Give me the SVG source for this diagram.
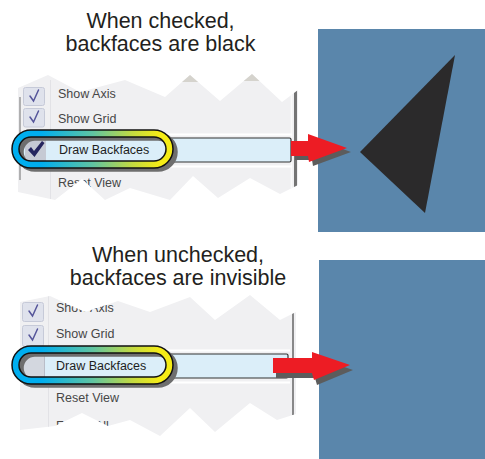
<svg xmlns="http://www.w3.org/2000/svg" width="485" height="459" viewBox="0 0 485 459">
<style>
.title{font-family:"Liberation Sans",Arial,sans-serif;font-size:21.5px;fill:#231f20;text-anchor:middle}
.item{font-family:"Liberation Sans",Arial,sans-serif;font-size:12.5px;fill:#474747}
.sel{font-family:"Liberation Sans",Arial,sans-serif;font-size:12.5px;fill:#1e1e1e}
.bg{fill:#f0f0f2}
.box{fill:#dfe2ec;stroke:#c6cad8;stroke-width:1}
.chk{fill:none;stroke:#55559a;stroke-width:1.5;stroke-linecap:round}
.row{fill:#dbeef9;stroke:#333;stroke-width:1.2}
.sep{stroke:#ffffff;stroke-width:2}
.panel{fill:#5a86ab}
.arrow{fill:#ed1c24}
.ashadow{fill:#5c5c5c}
.ringshadow{fill:none;stroke:#6e6e6e;stroke-width:8.5}
.ring{fill:none;stroke:url(#ringgrad);stroke-width:7}
.ringedge{fill:none;stroke:#111;stroke-width:1.5}
</style>
<defs>
<linearGradient id="ringgrad" x1="12" y1="0" x2="173" y2="0" gradientUnits="userSpaceOnUse">
<stop offset="0" stop-color="#00aeef"/>
<stop offset="0.18" stop-color="#00aeef"/>
<stop offset="0.5" stop-color="#5fc4a2"/>
<stop offset="0.75" stop-color="#c4da40"/>
<stop offset="0.92" stop-color="#f5ec16"/>
<stop offset="1" stop-color="#f5ec16"/>
</linearGradient>
<clipPath id="clip1"><polygon points="18,88 48,75 80,92 125,80 165,97 190,75 220,101 252,74 282,102 298,90 298,185 280,194 250,178 218,198 193,176 170,200 130,188 105,200 82,179 55,200 18,192"/></clipPath>
<clipPath id="clip2"><polygon points="20,302 50,296 85,312 118,301 150,312 190,297 215,320 250,295 280,320 296,312 296,414 277,420 250,403 215,432 190,408 160,436 130,420 108,426 82,413 55,426 20,430"/></clipPath>
<g id="capsule">
<rect class="ringshadow" x="19.5" y="136.5" width="154" height="31" rx="15.5"/>
<rect class="ring" x="15.5" y="133.5" width="154" height="31" rx="15.5"/>
<rect class="ringedge" x="12" y="130" width="161" height="38" rx="19"/>
<rect class="ringedge" x="19" y="137" width="147" height="24" rx="12"/>
</g>
</defs>

<g id="title1">
<text class="title" x="160.5" y="28">When checked,</text>
<text class="title" x="160.5" y="51">backfaces are black</text>
</g>

<g id="menu1">
<g clip-path="url(#clip1)">
<rect class="bg" x="0" y="60" width="300" height="150"/>
<rect x="180" y="60" width="20" height="22" fill="#d5d3cd"/>
<rect x="242" y="60" width="20" height="21" fill="#d5d3cd"/>
<line x1="50.5" y1="80" x2="50.5" y2="200" stroke="#e2e2e6" stroke-width="1"/>
<line x1="20" y1="97" x2="20" y2="180" stroke="#9a9a9a" stroke-width="1.5"/>
<line x1="291.5" y1="85" x2="291.5" y2="195" stroke="#fafafa" stroke-width="1.5"/>
<line x1="295.5" y1="85" x2="295.5" y2="195" stroke="#747474" stroke-width="3"/>
<rect class="box" x="23.5" y="87.5" width="21" height="18" rx="2"/>
<path class="chk" d="M30,96 L33.5,101 L38.5,90"/>
<text class="item" x="58" y="98">Show Axis</text>
<rect class="box" x="23.5" y="108.5" width="21" height="18.5" rx="2"/>
<path class="chk" d="M30,117 L33.5,122 L38.5,111"/>
<text class="item" x="58" y="123">Show Grid</text>
<line class="sep" x1="22" y1="134.5" x2="292" y2="134.5"/>
<line class="sep" x1="22" y1="166.5" x2="292" y2="166.5"/>
<text class="item" x="58" y="187">Reset View</text>
</g>
<rect class="row" x="22" y="138" width="269" height="24" rx="1.5"/>
<rect x="25" y="139" width="21" height="22" fill="#c6cad4"/>
<path d="M28,150 L31,147 L34,151 L42,141 L44.5,143 L34.5,157 Z" fill="#25255e"/>
<text class="sel" x="59" y="154">Draw Backfaces</text>
<use href="#capsule"/>
</g>

<g id="panel1">
<rect class="panel" x="318" y="29" width="167" height="203"/>
<polygon points="455,55 360,152 425,213" fill="#2b2a2b"/>
</g>

<g id="title2">
<text class="title" x="178" y="262">When unchecked,</text>
<text class="title" x="178" y="285">backfaces are invisible</text>
</g>

<g id="menu2">
<g clip-path="url(#clip2)">
<rect class="bg" x="0" y="290" width="300" height="150"/>
<line x1="48.5" y1="295" x2="48.5" y2="435" stroke="#e2e2e6" stroke-width="1"/>
<line x1="293" y1="313" x2="293" y2="415" stroke="#505050" stroke-width="1.3"/>
<rect class="box" x="22.5" y="302.5" width="21" height="19" rx="2"/>
<path class="chk" d="M29,311 L32.5,316 L37.5,305"/>
<text class="item" x="56" y="312">Show Axis</text>
<rect class="box" x="22.5" y="325.5" width="21" height="21" rx="2"/>
<path class="chk" d="M29,335 L32.5,340 L37.5,329"/>
<text class="item" x="56" y="338">Show Grid</text>
<line class="sep" x1="20" y1="350.5" x2="290" y2="350.5"/>
<line class="sep" x1="20" y1="382.5" x2="290" y2="382.5"/>
<text class="item" x="56" y="402">Reset View</text>
<text class="item" x="56" y="430">Frame All</text>
</g>
<rect class="row" x="20" y="354" width="268" height="24" rx="1.5"/>
<rect x="22" y="355" width="22" height="22" fill="#d3d7df"/>
<line x1="44.5" y1="355" x2="44.5" y2="377" stroke="#b9bdc8" stroke-width="1"/>
<text class="sel" x="56" y="370">Draw Backfaces</text>
<use href="#capsule" transform="translate(0,216)"/>
</g>

<g id="panel2">
<rect class="panel" x="319" y="260" width="166" height="199"/>
</g>

<g id="connectors">
<polygon class="ashadow" transform="translate(4,4)" points="291,141 308,141 308,134 347,148 309,162 308,156 291,156"/>
<polygon class="arrow" points="291,141 308,141 308,134 347,148 309,162 308,156 291,156"/>
<polygon class="ashadow" transform="translate(3,5)" points="273,358 312,358 312,352 350,365 314,380 312,373 273,373"/>
<polygon class="arrow" points="273,358 312,358 312,352 350,365 314,380 312,373 273,373"/>
</g>
</svg>
